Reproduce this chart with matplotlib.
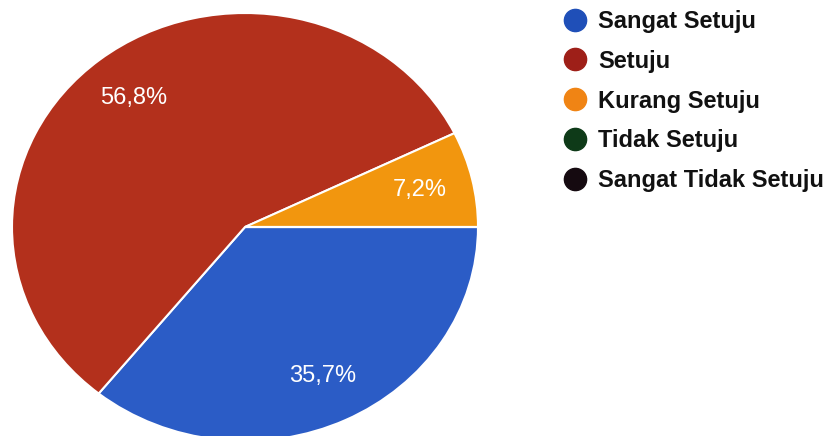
import matplotlib.pyplot as plt
from matplotlib.lines import Line2D

# Survey answers (percent)
labels = ["Sangat Setuju", "Setuju", "Kurang Setuju", "Tidak Setuju", "Sangat Tidak Setuju"]
values = [35.7, 56.8, 7.2, 0.0, 0.0]
colors = ["#2b5cc6", "#b3301c", "#f2960e", "#123f1c", "#160b12"]
legend_colors = ["#1f4fb8", "#9e1f18", "#f08414", "#0e3a18", "#150a10"]

plt.rcParams['font.family'] = ['Liberation Sans', 'DejaVu Sans']

fig = plt.figure(figsize=(8.31, 4.36), dpi=100)
W, H = 831, 436
# pie bounding box in pixels (slightly stretched, as in the screenshot)
ax = fig.add_axes([12 / W, (H - 441) / H, 466 / W, 428 / H])

def pct(v):
    return f"{v:.1f}%".replace(".", ",") if v > 0 else ""

wedges, texts, autotexts = ax.pie(
    values, colors=colors, startangle=0, counterclock=False,
    autopct="%.1f", pctdistance=0.77,
    wedgeprops=dict(edgecolor="white", linewidth=1.5),
    textprops=dict(color="white", fontsize=17))
# show the survey's own rounded percentages
for t, v in zip(autotexts, values):
    t.set_text(pct(v))
ax.set_aspect("auto")
ax.set_xlim(-1, 1)
ax.set_ylim(-1, 1)

handles = [Line2D([], [], marker="o", linestyle="", markersize=16,
                  markerfacecolor=c, markeredgecolor=c) for c in legend_colors]
fig.legend(handles, labels, loc="upper left", bbox_to_anchor=(563 / W, 1 - 10 / H),
           frameon=False, prop=dict(size=17, weight="bold"),
           handlelength=1.0, handletextpad=0.5, labelspacing=0.71,
           borderpad=0, borderaxespad=0, labelcolor="#111111")

fig.savefig("out.png", dpi=100)
